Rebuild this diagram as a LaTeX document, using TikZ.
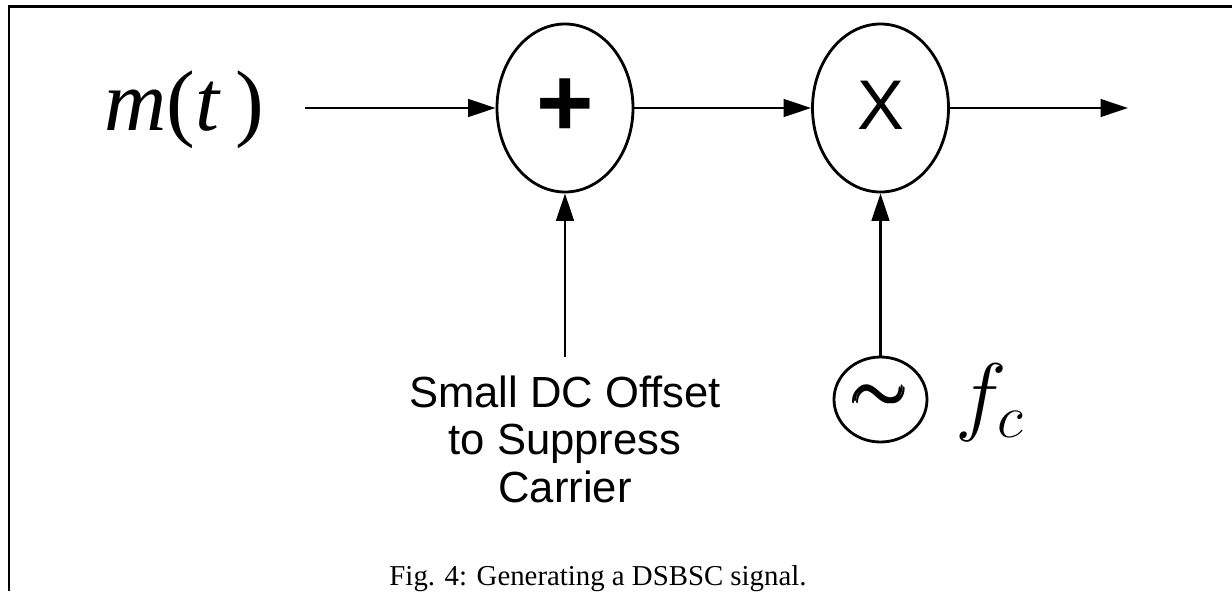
\documentclass[tikz,border=0pt]{standalone}
\usepackage{amsmath}
\usepackage{fontspec}
\setmainfont{Liberation Serif}
\setsansfont{Liberation Sans}
\usetikzlibrary{arrows.meta, shapes.geometric, positioning}

\tikzset{
	opnode/.style={draw, ellipse, line width=0.8pt, minimum width=1.36cm, minimum height=1.68cm, inner sep=0pt, font=\sffamily\fontsize{20}{24}\selectfont},
	sig/.style={line width=0.75pt, -{Triangle[length=7.8pt, width=5pt]}},
}

\begin{document}
\begin{tikzpicture}
	\useasboundingbox (0, 0) rectangle (12.32, 5.91);
	\draw[line width=0.7pt] (12.32, 5.845) -- (0.09, 5.845) -- (0.09, 0);
	\node[opnode] (sum) at (5.65, 4.83) {\fontsize{28}{32}\selectfont\bfseries\raisebox{-0.12em}{+}};
	\node[opnode] (mult) at (8.805, 4.83) {\raisebox{0.07em}{X}};
	\node[draw, ellipse, line width=0.8pt, minimum width=0.93cm, minimum height=0.85cm, inner sep=0pt] (osc) at (8.805, 1.915) {\fontsize{20}{23}\selectfont$\pmb{\sim}$};
	\node[anchor=base] (msig) at (1.845, 4.61) {\fontsize{24.5}{29}\selectfont\textit{m}(\textit{t}\,)};
	\node[anchor=west, inner sep=0pt] (fc) at (9.55, 1.88) {\fontsize{23}{27}\selectfont$f_c$};
	\node[anchor=north, align=center, inner sep=0pt, font=\sffamily\fontsize{12.4}{13.5}\selectfont] (offset) at (5.65, 2.16) {Small DC Offset\\to Suppress\\Carrier};
	\node[anchor=base] (cap) at (5.98, 0.06) {\fontsize{8.2}{9}\selectfont Fig. 4: Generating a DSBSC signal.};
	\coordinate (in) at (3.05, 4.83);
	\coordinate (out) at (11.28, 4.83);
	\draw[sig] (in) -- (sum);
	\draw[sig] (sum) -- (mult);
	\draw[sig] (mult) -- (out);
	\draw[sig, shorten <=5.1pt] (offset) -- (sum);
	\draw[sig] (osc) -- (mult);
\end{tikzpicture}
\end{document}
